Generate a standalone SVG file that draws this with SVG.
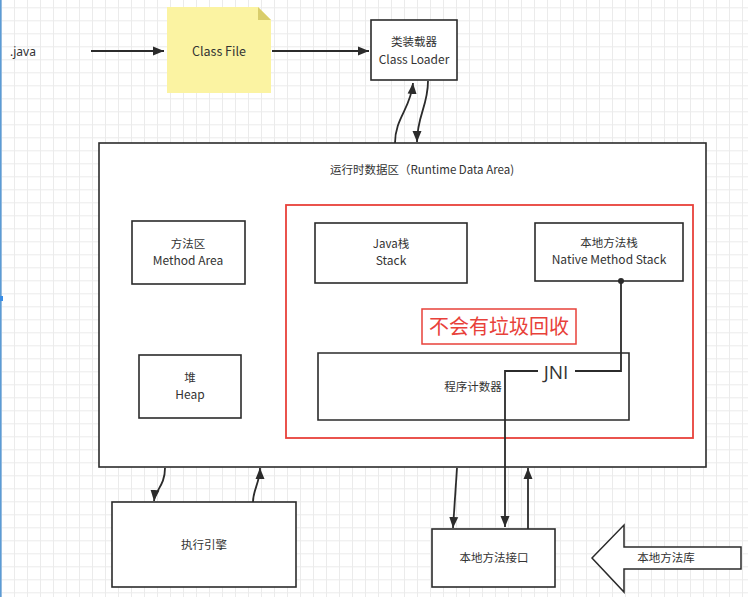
<svg xmlns="http://www.w3.org/2000/svg" width="748" height="597" viewBox="0 0 748 597">
<style>
.box{fill:#fff;stroke:#2b2b2b;stroke-width:1.6}
.t{font-family:"Noto Sans CJK SC","Noto Sans",sans-serif;font-size:11.5px;fill:#333;text-anchor:middle}
.l{font-size:12px}
.c{fill:none;stroke:#2b2b2b;stroke-width:1.8}
</style>
<defs>
<pattern id="grid" width="13" height="13" patternUnits="userSpaceOnUse" x="1" y="7.3">
<path d="M0,0.5H13M0.5,0V13" fill="none" stroke="#ebebeb" stroke-width="1"/>
</pattern>
<marker id="ah" markerWidth="12" markerHeight="10" refX="11" refY="5" orient="auto" markerUnits="userSpaceOnUse">
<path d="M0,0.5 L11,5 L0,9.5 Z" fill="#2b2b2b"/>
</marker>
</defs>
<rect width="748" height="597" fill="#fff"/>
<rect width="748" height="597" fill="url(#grid)"/>
<line x1="0.8" y1="0" x2="0.8" y2="597" stroke="#5b9bd5" stroke-width="1.6"/>
<rect x="0" y="296" width="3" height="5" fill="#3a8ee6"/>

<g id="java">
<text x="10" y="56" style="font-family:'Noto Sans',sans-serif;font-size:12px;fill:#333">.java</text>
</g>

<g id="classfile">
<polygon points="167,7 258,7 271,20 271,93 167,93" fill="#fbf3a2"/>
<polygon points="258,7 271,20 258,20" fill="#d9cd6c"/>
<text class="t" x="219" y="56" style="font-size:12.5px">Class File</text>
</g>

<g id="classloader">
<rect class="box" x="371" y="20" width="86" height="60"/>
<text class="t" x="414" y="46">类装载器</text>
<text class="t l" x="414" y="63.5">Class Loader</text>
</g>

<g id="runtime">
<rect class="box" x="99" y="143" width="607" height="324"/>
<text class="t" x="422" y="174">运行时数据区（Runtime Data Area)</text>
</g>

<g id="gcfree">
<rect x="286" y="205" width="407" height="233" fill="none" stroke="#e8413a" stroke-width="1.8"/>
</g>

<g id="methodarea">
<rect class="box" x="132" y="221" width="113" height="63"/>
<text class="t" x="188" y="248">方法区</text>
<text class="t l" x="188" y="265">Method Area</text>
</g>

<g id="javastack">
<rect class="box" x="315" y="223" width="152" height="60"/>
<text class="t" x="391" y="248">Java栈</text>
<text class="t l" x="391" y="265">Stack</text>
</g>

<g id="nativestack">
<rect class="box" x="535" y="223" width="148" height="58"/>
<text class="t" x="609" y="247">本地方法栈</text>
<text class="t l" x="609" y="264">Native Method Stack</text>
</g>

<g id="nogc">
<rect x="422" y="309" width="154" height="35" fill="#fff" stroke="#e8413a" stroke-width="1.5"/>
<text class="t" x="499" y="334" style="font-size:20px;fill:#e8413a">不会有垃圾回收</text>
</g>

<g id="pc">
<path class="box" d="M318,353 H629 V420 H318 Z" style="fill:none"/>
<text class="t" x="473" y="391">程序计数器</text>
</g>

<g id="heap">
<rect class="box" x="139" y="355" width="102" height="63"/>
<text class="t" x="190" y="382">堆</text>
<text class="t l" x="190" y="399">Heap</text>
</g>

<g id="engine">
<rect class="box" x="112" y="502" width="184" height="85"/>
<text class="t" x="204" y="549">执行引擎</text>
</g>

<g id="nativeinterface">
<rect class="box" x="432" y="529" width="123" height="58"/>
<text class="t" x="494" y="562">本地方法接口</text>
</g>

<g id="nativelib">
<polygon points="592,558 624,525 624,547 741,547 741,569 624,569 624,592" fill="#fff" stroke="#2b2b2b" stroke-width="1.5"/>
<text class="t" x="666" y="562">本地方法库</text>
</g>

<g id="connectors">
<path class="c" d="M91,51 H164" marker-end="url(#ah)"/>
<path class="c" d="M272,51 H369" marker-end="url(#ah)"/>
<path class="c" d="M395,143 C395,118 411,108 413,83" marker-end="url(#ah)"/>
<path class="c" d="M428,81 C428,106 417,116 417,142" marker-end="url(#ah)"/>
<path class="c" d="M165,468 C165,486 155,490 154,501" marker-end="url(#ah)"/>
<path class="c" d="M253,502 C253,490 260,482 260,468" marker-end="url(#ah)"/>
<path class="c" d="M457,468 L453,528" marker-end="url(#ah)"/>
<path class="c" d="M528,529 L528,468" marker-end="url(#ah)"/>
<path class="c" d="M621,281 V371 H575 M538,371 H505 V527" marker-end="url(#ah)"/>
<circle cx="621" cy="281" r="3" fill="#2b2b2b"/>
<text x="556" y="379" style="font-family:'Open Sans','Noto Sans',sans-serif;font-size:19px;fill:#333;text-anchor:middle">JNI</text>
</g>
</svg>
